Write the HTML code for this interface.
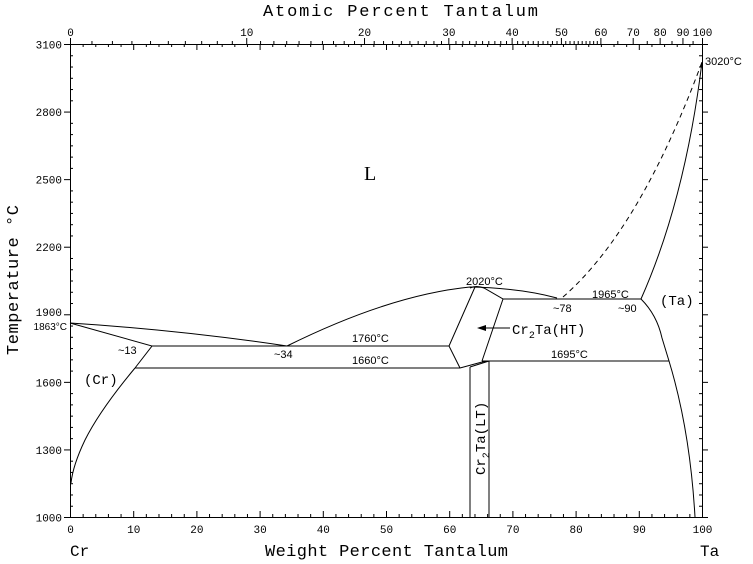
<!DOCTYPE html>
<html><head><meta charset="utf-8">
<style>
html,body{margin:0;padding:0;background:#fff;}
svg{display:block;}
text{font-family:"Liberation Mono","DejaVu Sans Mono",monospace;fill:#000;}
.s{font-family:"Liberation Sans",sans-serif;font-size:11px;}
</style></head>
<body>
<svg id="c" width="753" height="564" viewBox="0 0 753 564" xmlns="http://www.w3.org/2000/svg">
<g fill="none" stroke="#000" stroke-width="1">
<rect x="70.5" y="44.5" width="632" height="473"/>
<path d="M70,323 Q180,330 287,346"/>
<path d="M70,323 L152,346 L135,368"/>
<path d="M135,368 Q100,410 85,440 Q73,465 71,483"/>
<path d="M287,346 Q390,295 470,287 Q520,288 557,298"/>
<path d="M563,297 Q640,230 702,62" stroke-dasharray="5,4"/>
<path d="M641,299 Q685,200 702,62"/>
<path d="M503,299 H641"/>
<path d="M152,346 H449"/>
<path d="M135,368 H460"/>
<path d="M482,361 H669"/>
<path d="M475,287 L449,346 L460,368"/>
<path d="M470,288 Q476,285 484,288 L503,299 L482,361"/>
<path d="M460,368 L482,362 L489,361"/>
<path d="M470,367 L489,361"/>
<path d="M470,367 V517 M489,361 V517"/>
<path d="M641,299 Q657,315 662,338 L669,361 Q690,430 695,517"/>
<path d="M483,328 H510"/>
</g>
<path d="M477,328 L486,325 L486,331 Z" fill="#000"/>
<g id="ticks" stroke="#000" stroke-width="1"></g>
<g id="labels" font-size="11"></g>
<text x="263" y="16" font-size="17" textLength="275">Atomic Percent Tantalum</text>
<text x="265" y="556" font-size="17" textLength="243">Weight Percent Tantalum</text>
<text x="70" y="556" font-size="16">Cr</text>
<text x="700" y="556" font-size="16">Ta</text>
<text transform="translate(18,355) rotate(-90)" font-size="17" textLength="150">Temperature °C</text>
<text x="364" y="180" font-size="20" style="font-family:'Liberation Serif',serif">L</text>
<text x="84" y="384" font-size="14">(Cr)</text>
<text x="660" y="305" font-size="14">(Ta)</text>
<text x="512" y="334" font-size="14">Cr<tspan font-size="10" dy="4">2</tspan><tspan dy="-4">Ta(HT)</tspan></text>
<text transform="translate(485,475) rotate(-90)" font-size="14">Cr<tspan font-size="10" dy="4">2</tspan><tspan dy="-4">Ta(LT)</tspan></text>
<text class="s" x="466" y="285">2020°C</text>
<text class="s" x="592" y="298">1965°C</text>
<text class="s" x="553" y="312">~78</text>
<text class="s" x="618" y="312">~90</text>
<text class="s" x="352" y="342">1760°C</text>
<text class="s" x="352" y="364">1660°C</text>
<text class="s" x="551" y="358">1695°C</text>
<text class="s" x="274" y="358">~34</text>
<text class="s" x="118" y="354">~13</text>
<text class="s" x="67" y="330" text-anchor="end" style="font-size:10px">1863°C</text>
<text class="s" x="705" y="65">3020°C</text>
</svg>
<script>
var ns="http://www.w3.org/2000/svg",T=document.getElementById("ticks"),L=document.getElementById("labels");
function ln(a,b,c,d){var e=document.createElementNS(ns,"line");e.setAttribute("x1",a);e.setAttribute("y1",b);e.setAttribute("x2",c);e.setAttribute("y2",d);T.appendChild(e);}
function tx(x,y,s,anc){var e=document.createElementNS(ns,"text");e.setAttribute("x",x);e.setAttribute("y",y);e.setAttribute("text-anchor",anc||"middle");e.textContent=s;L.appendChild(e);}
function X(w){return 70.5+6.32*w;}
function Y(t){return 517.5-(t-1000)*473/2100;}
for(var w=0;w<=100;w+=2){var x=X(w),m=(w%10==0);ln(x,517,x,m?511:514);ln(x,44,x,m?50:47);if(m)tx(x,533,w);}
for(var t=1000;t<=3100;t+=50){var y=Y(t),m=(t%300==100);ln(70,y,m?64:73,y);ln(702,y,m?708:699,y);if(m&&t!=1900)tx(62,y+4,t,"end");}
tx(62,Y(1900)+1,"1900","end");
function wt(a){return 100*a*180.95/(a*180.95+(100-a)*52);}
for(var a=0;a<=100;a+=1){var x=X(wt(a));var m=(a%10==0);if(a<60||m||a%5==0){ln(x,44,x,m?38:41);}if(m)tx(x,36,a);}
</script>
</body></html>
